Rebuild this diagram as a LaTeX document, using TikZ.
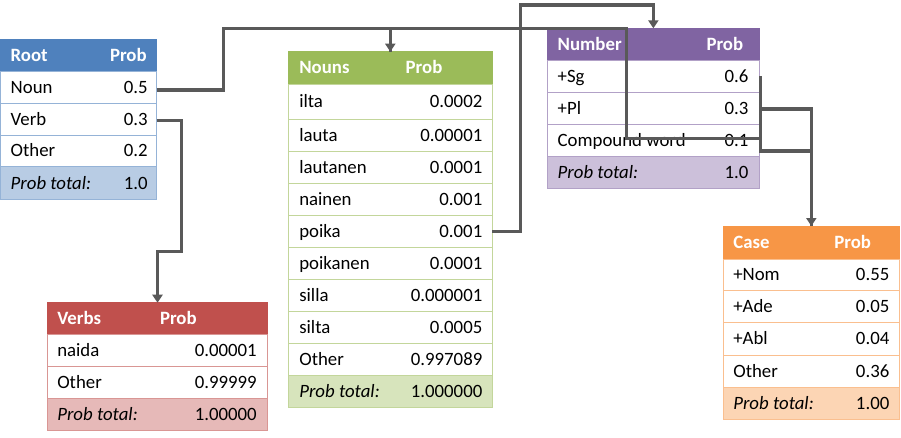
\documentclass[tikz,border=0pt]{standalone}
\usepackage{fontspec}
\setmainfont{Carlito}
\usetikzlibrary{fit,arrows.meta}
\definecolor{bluehead}{HTML}{4F81BD}\definecolor{blueline}{HTML}{95B3D7}\definecolor{bluetot}{HTML}{B8CCE4}
\definecolor{greenhead}{HTML}{9BBB59}\definecolor{greenline}{HTML}{C3D69B}\definecolor{greentot}{HTML}{D7E4BC}
\definecolor{purphead}{HTML}{8064A2}\definecolor{purpline}{HTML}{B2A1C7}\definecolor{purptot}{HTML}{CCC0DA}
\definecolor{orghead}{HTML}{F79646}\definecolor{orgline}{HTML}{FABF8F}\definecolor{orgtot}{HTML}{FCD5B4}
\definecolor{redhead}{HTML}{C0504D}\definecolor{redline}{HTML}{D99694}\definecolor{redtot}{HTML}{E6B9B8}
\definecolor{connc}{HTML}{595959}
\tikzset{
 txt/.style={inner sep=0pt, outer sep=0pt, font=\fontsize{18.8}{20}\selectfont, text=black},
 htxt/.style={inner sep=0pt, outer sep=0pt, font=\fontsize{18.8}{20}\selectfont\bfseries, text=white},
 cell/.style={inner sep=0pt, outer sep=0pt, line width=0.9pt},
 conn/.style={draw=connc, line width=3.3pt},
 arr/.style={-{Triangle[width=10pt,length=8pt]}},
}
\newcommand\tabset[5]{\def\tA{#1}\def\tB{#2}\def\tL{#3}\def\tR{#4}\def\tLine{#5}}
\newcommand\thead[6]{%
 \node[cell, fit={(\tA,#2)(\tB,#3)}, fill=#4, draw=#4] (#1) {};
 \pgfmathsetmacro\yb{(#2+#3)/2+6}
 \node[htxt, anchor=base west] (#1-l) at (\tL,\yb) {#5};
 \node[htxt, anchor=base west] (#1-r) at (#6,\yb) {Prob};}
\newcommand\trow[6]{%
 \node[cell, fit={(\tA,#2)(\tB,#3)}, fill=#4, draw=\tLine] (#1) {};
 \pgfmathsetmacro\yb{(#2+#3)/2+6}
 \node[txt, anchor=base west] (#1-l) at (\tL,\yb) {#5};
 \node[txt, anchor=base east] (#1-r) at (\tR,\yb) {#6};}
\begin{document}
\begin{tikzpicture}[x=1pt,y=-1pt]
\useasboundingbox (0,0) rectangle (901,437);
% Root
\tabset{0.5}{156.7}{10.7}{147.7}{blueline}
\thead{rhead}{39.5}{71.7}{bluehead}{Root}{110}
\trow{rnoun}{71.7}{103.3}{white}{Noun}{0.5}
\trow{rverb}{103.3}{135}{white}{Verb}{0.3}
\trow{rother}{135}{166.7}{white}{Other}{0.2}
\trow{rtot}{166.7}{199.3}{bluetot}{\textit{Prob total:}}{1.0}
% Nouns
\tabset{288.3}{492.3}{299.3}{482.3}{greenline}
\thead{nhead}{51.7}{84}{greenhead}{Nouns}{405.7}
\trow{nilta}{84}{119}{white}{ilta}{0.0002}
\trow{nlauta}{119}{151}{white}{lauta}{0.00001}
\trow{nlautanen}{151}{183.3}{white}{lautanen}{0.0001}
\trow{nnainen}{183.3}{215}{white}{nainen}{0.001}
\trow{npoika}{215}{247.3}{white}{poika}{0.001}
\trow{npoikanen}{247.3}{279.7}{white}{poikanen}{0.0001}
\trow{nsilla}{279.7}{311.7}{white}{silla}{0.000001}
\trow{nsilta}{311.7}{343.3}{white}{silta}{0.0005}
\trow{nother}{343.3}{375.7}{white}{Other}{0.997089}
\trow{ntot}{375.7}{407.7}{greentot}{\textit{Prob total:}}{1.000000}
% Verbs
\tabset{47.3}{267.7}{57.3}{256.7}{redline}
\thead{vhead}{302.7}{334.3}{redhead}{Verbs}{160}
\trow{vnaida}{334.3}{366}{white}{naida}{0.00001}
\trow{vother}{366}{398.3}{white}{Other}{0.99999}
\trow{vtot}{398.3}{430}{redtot}{\textit{Prob total:}}{1.00000}
% Number
\tabset{547.7}{759}{557.7}{748.3}{purpline}
\thead{mhead}{28.3}{60.7}{purphead}{Number}{706.5}
\trow{msg}{60.7}{92.3}{white}{+Sg}{0.6}
\trow{mpl}{92.3}{124.3}{white}{+Pl}{0.3}
\trow{mcomp}{124.3}{156}{white}{Compound word}{0.1}
\trow{mtot}{156}{188}{purptot}{\textit{Prob total:}}{1.0}
% Case
\tabset{723.3}{899.3}{733.3}{889.3}{orgline}
\thead{chead}{226}{259}{orghead}{Case}{834.3}
\trow{cnom}{259}{290.7}{white}{+Nom}{0.55}
\trow{cade}{290.7}{322.3}{white}{+Ade}{0.05}
\trow{cabl}{322.3}{355}{white}{+Abl}{0.04}
\trow{cother}{355}{387}{white}{Other}{0.36}
\trow{ctot}{387}{419.3}{orgtot}{\textit{Prob total:}}{1.00}
% connectors
\coordinate (a1) at (223.3,28.3);
\coordinate (b1) at (626.7,28.3);
\coordinate (c1) at (520.5,5);
\coordinate (d1) at (760.5,151);
\coordinate (f1) at (181.7,251.7);
\draw[conn,arr] ([yshift=-2.5pt]rnoun.east) -| (a1) -| (nhead.north);
\draw[conn] ([yshift=2pt]mcomp.east) -| (b1) -| (nhead.north);
\draw[conn,arr] (npoika.east) -| (c1) -| (mhead.north);
\draw[conn] ([yshift=-1.5pt]msg.east) -| (d1) -| (chead.north);
\draw[conn,arr] ([yshift=-0.7pt]mpl.east) -| (chead.north);
\draw[conn,arr] ([yshift=-1.3pt]rverb.east) -| (f1) -| (vhead.north);
\end{tikzpicture}
\end{document}
